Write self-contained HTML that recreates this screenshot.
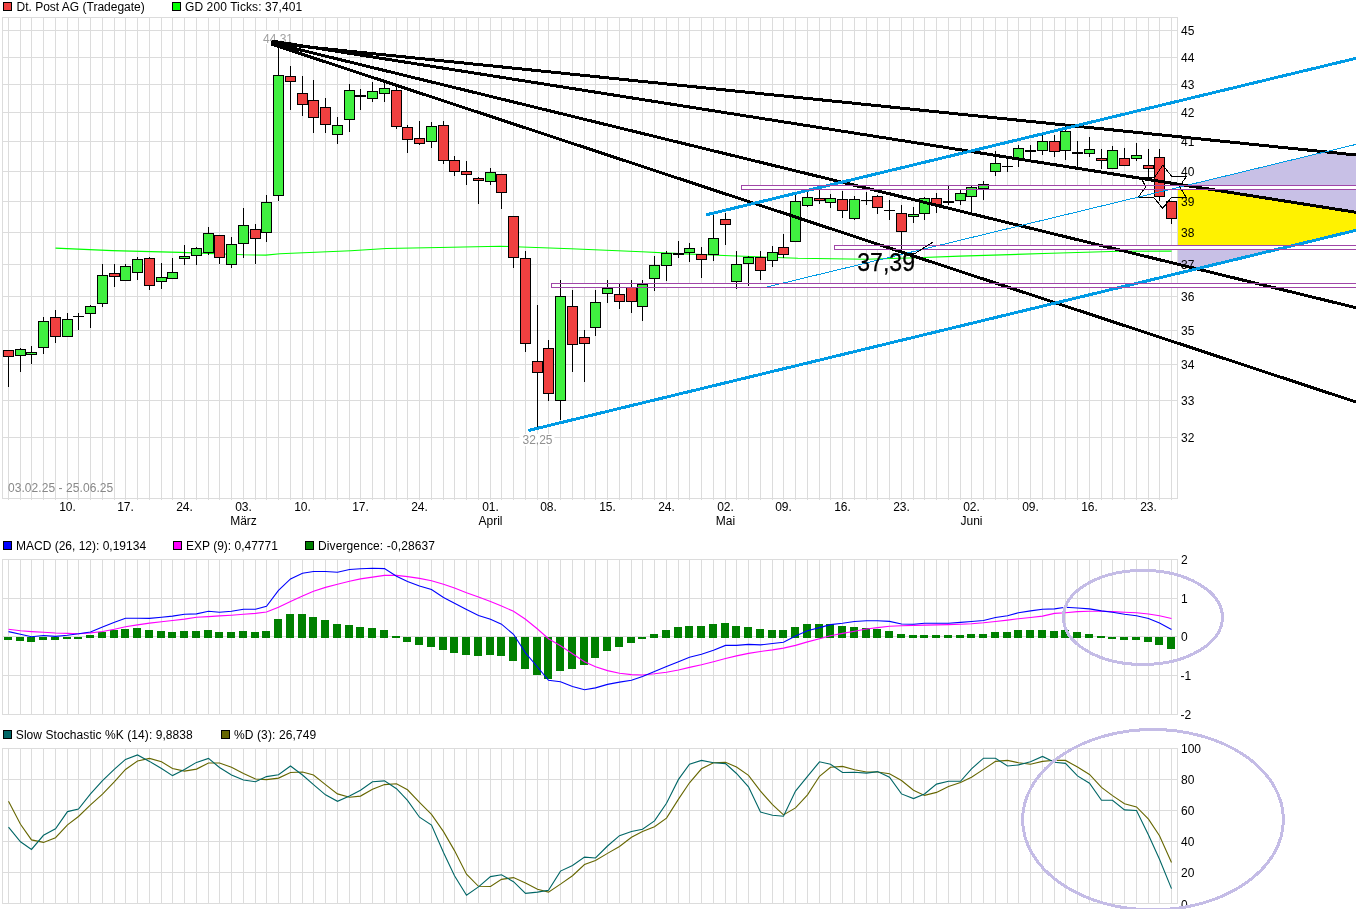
<!DOCTYPE html>
<html><head><meta charset="utf-8"><title>Dt. Post AG Chart</title>
<style>html,body{margin:0;padding:0;background:#fff;overflow:hidden}svg{display:block}</style>
</head><body>
<svg width="1356" height="909" viewBox="0 0 1356 909"><rect width="1356" height="909" fill="#fff"/>
<path d="M8.5 17V500M20.5 17V500M31.5 17V500M43.5 17V500M55.5 17V500M67.5 17V500M78.5 17V500M90.5 17V500M102.5 17V500M114.5 17V500M125.5 17V500M137.5 17V500M149.5 17V500M161.5 17V500M172.5 17V500M184.5 17V500M196.5 17V500M208.5 17V500M219.5 17V500M231.5 17V500M243.5 17V500M255.5 17V500M266.5 17V500M278.5 17V500M290.5 17V500M302.5 17V500M313.5 17V500M325.5 17V500M337.5 17V500M349.5 17V500M360.5 17V500M372.5 17V500M384.5 17V500M396.5 17V500M407.5 17V500M419.5 17V500M431.5 17V500M443.5 17V500M454.5 17V500M466.5 17V500M478.5 17V500M490.5 17V500M501.5 17V500M513.5 17V500M525.5 17V500M537.5 17V500M548.5 17V500M560.5 17V500M572.5 17V500M584.5 17V500M595.5 17V500M607.5 17V500M619.5 17V500M631.5 17V500M642.5 17V500M654.5 17V500M666.5 17V500M678.5 17V500M689.5 17V500M701.5 17V500M713.5 17V500M725.5 17V500M736.5 17V500M748.5 17V500M760.5 17V500M772.5 17V500M783.5 17V500M795.5 17V500M807.5 17V500M819.5 17V500M830.5 17V500M842.5 17V500M854.5 17V500M866.5 17V500M877.5 17V500M889.5 17V500M901.5 17V500M913.5 17V500M924.5 17V500M936.5 17V500M948.5 17V500M960.5 17V500M971.5 17V500M983.5 17V500M995.5 17V500M1007.5 17V500M1018.5 17V500M1030.5 17V500M1042.5 17V500M1054.5 17V500M1065.5 17V500M1077.5 17V500M1089.5 17V500M1101.5 17V500M1112.5 17V500M1124.5 17V500M1136.5 17V500M1148.5 17V500M1159.5 17V500M1171.5 17V500" stroke="#dcdcdc" stroke-width="1" fill="none"/>
<path d="M2 437.5H1177M2 400.5H1177M2 364.5H1177M2 330.5H1177M2 296.5H1177M2 264.5H1177M2 232.5H1177M2 201.5H1177M2 171.5H1177M2 141.5H1177M2 112.5H1177M2 84.5H1177M2 57.5H1177M2 30.5H1177" stroke="#dcdcdc" stroke-width="1" fill="none"/>
<rect x="2.5" y="17.5" width="1175" height="481" fill="none" stroke="#dcdcdc" stroke-width="1"/>
<polygon points="1178.00,187.49 1325.29,151.83 1356.00,155.00 1356.00,230.30 1196.75,268.82 1178.00,264.24" fill="#c8c0e6"/>
<rect x="741.5" y="185.5" width="619" height="4" fill="#fff"/>
<rect x="834.5" y="245.5" width="526" height="4" fill="#fff"/>
<rect x="551.5" y="283.5" width="809" height="4" fill="#fff"/>
<polygon points="1178,190 1214.82,190 1356,212.30 1356,230.30 1295.22,245 1178,245" fill="#fff200"/>
<polyline points="55.5,248.1 112.2,250.6 180,252.4 243.8,254.8 265.8,255.1 280,253.7 350.8,250.7 386.2,248.5 439.3,247.5 500,246.2 570.8,248.8 641.6,251.8 680,253.6 730,255.8 797.8,258.3 865.7,259.2 916.6,257.8 960,256.1 1051.8,253.3 1119.6,251.3 1171.6,251.1" fill="none" stroke="#00ff00" stroke-width="1.1"/>
<text x="8" y="492" style="font-family:'Liberation Sans',Arial,sans-serif;font-size:12px" textLength="105.2" fill="#888888">03.02.25 - 25.06.25</text>
<path d="M8.5 350V387" stroke="#000" stroke-width="1"/>
<rect x="3.5" y="350.5" width="10" height="6" fill="#f04040" stroke="#000" stroke-width="1"/>
<path d="M20.5 348V372" stroke="#000" stroke-width="1"/>
<rect x="15.5" y="349.5" width="10" height="6" fill="#40f040" stroke="#000" stroke-width="1"/>
<path d="M31.5 346V364" stroke="#000" stroke-width="1"/>
<rect x="26.5" y="352.5" width="10" height="2" fill="#40f040" stroke="#000" stroke-width="1"/>
<path d="M43.5 317V354" stroke="#000" stroke-width="1"/>
<rect x="38.5" y="321.5" width="10" height="26" fill="#40f040" stroke="#000" stroke-width="1"/>
<path d="M55.5 310V343" stroke="#000" stroke-width="1"/>
<rect x="50.5" y="317.5" width="10" height="19" fill="#f04040" stroke="#000" stroke-width="1"/>
<path d="M67.5 313V337" stroke="#000" stroke-width="1"/>
<rect x="62.5" y="319.5" width="10" height="17" fill="#40f040" stroke="#000" stroke-width="1"/>
<path d="M78.5 313V330" stroke="#000" stroke-width="1"/>
<rect x="73.0" y="316" width="11" height="1" fill="#000"/>
<path d="M90.5 305V328" stroke="#000" stroke-width="1"/>
<rect x="85.5" y="306.5" width="10" height="7" fill="#40f040" stroke="#000" stroke-width="1"/>
<path d="M102.5 264V307" stroke="#000" stroke-width="1"/>
<rect x="97.5" y="275.5" width="10" height="28" fill="#40f040" stroke="#000" stroke-width="1"/>
<path d="M114.5 264V287" stroke="#000" stroke-width="1"/>
<rect x="109.5" y="273.5" width="10" height="3" fill="#f04040" stroke="#000" stroke-width="1"/>
<path d="M125.5 264V281" stroke="#000" stroke-width="1"/>
<rect x="120.5" y="266.5" width="10" height="14" fill="#40f040" stroke="#000" stroke-width="1"/>
<path d="M137.5 257V280" stroke="#000" stroke-width="1"/>
<rect x="132.5" y="259.5" width="10" height="13" fill="#40f040" stroke="#000" stroke-width="1"/>
<path d="M149.5 257V290" stroke="#000" stroke-width="1"/>
<rect x="144.5" y="258.5" width="10" height="27" fill="#f04040" stroke="#000" stroke-width="1"/>
<path d="M161.5 263V289" stroke="#000" stroke-width="1"/>
<rect x="156.5" y="277.5" width="10" height="4" fill="#40f040" stroke="#000" stroke-width="1"/>
<path d="M172.5 258V279" stroke="#000" stroke-width="1"/>
<rect x="167.5" y="272.5" width="10" height="6" fill="#40f040" stroke="#000" stroke-width="1"/>
<path d="M184.5 245V265" stroke="#000" stroke-width="1"/>
<rect x="179.5" y="256.5" width="10" height="2" fill="#40f040" stroke="#000" stroke-width="1"/>
<path d="M196.5 247V265" stroke="#000" stroke-width="1"/>
<rect x="191.5" y="248.5" width="10" height="7" fill="#40f040" stroke="#000" stroke-width="1"/>
<path d="M208.5 227V255" stroke="#000" stroke-width="1"/>
<rect x="203.5" y="233.5" width="10" height="19" fill="#40f040" stroke="#000" stroke-width="1"/>
<path d="M219.5 235V264" stroke="#000" stroke-width="1"/>
<rect x="214.5" y="235.5" width="10" height="22" fill="#f04040" stroke="#000" stroke-width="1"/>
<path d="M231.5 237V268" stroke="#000" stroke-width="1"/>
<rect x="226.5" y="244.5" width="10" height="20" fill="#40f040" stroke="#000" stroke-width="1"/>
<path d="M243.5 208V258" stroke="#000" stroke-width="1"/>
<rect x="238.5" y="225.5" width="10" height="18" fill="#40f040" stroke="#000" stroke-width="1"/>
<path d="M255.5 224V264" stroke="#000" stroke-width="1"/>
<rect x="250.5" y="229.5" width="10" height="9" fill="#f04040" stroke="#000" stroke-width="1"/>
<path d="M266.5 195V242" stroke="#000" stroke-width="1"/>
<rect x="261.5" y="202.5" width="10" height="30" fill="#40f040" stroke="#000" stroke-width="1"/>
<path d="M278.5 41V201" stroke="#000" stroke-width="1"/>
<rect x="273.5" y="75.5" width="10" height="120" fill="#40f040" stroke="#000" stroke-width="1"/>
<path d="M290.5 66V110" stroke="#000" stroke-width="1"/>
<rect x="285.5" y="76.5" width="10" height="5" fill="#f04040" stroke="#000" stroke-width="1"/>
<path d="M302.5 76V116" stroke="#000" stroke-width="1"/>
<rect x="297.5" y="93.5" width="10" height="11" fill="#f04040" stroke="#000" stroke-width="1"/>
<path d="M313.5 80V133" stroke="#000" stroke-width="1"/>
<rect x="308.5" y="100.5" width="10" height="17" fill="#f04040" stroke="#000" stroke-width="1"/>
<path d="M325.5 98V133" stroke="#000" stroke-width="1"/>
<rect x="320.5" y="107.5" width="10" height="17" fill="#f04040" stroke="#000" stroke-width="1"/>
<path d="M337.5 117V144" stroke="#000" stroke-width="1"/>
<rect x="332.5" y="125.5" width="10" height="9" fill="#40f040" stroke="#000" stroke-width="1"/>
<path d="M349.5 84V132" stroke="#000" stroke-width="1"/>
<rect x="344.5" y="90.5" width="10" height="29" fill="#40f040" stroke="#000" stroke-width="1"/>
<path d="M360.5 89V110" stroke="#000" stroke-width="1"/>
<rect x="355.0" y="95" width="11" height="2" fill="#000"/>
<path d="M372.5 82V102" stroke="#000" stroke-width="1"/>
<rect x="367.5" y="91.5" width="10" height="7" fill="#40f040" stroke="#000" stroke-width="1"/>
<path d="M384.5 83V102" stroke="#000" stroke-width="1"/>
<rect x="379.5" y="88.5" width="10" height="5" fill="#40f040" stroke="#000" stroke-width="1"/>
<path d="M396.5 86V129" stroke="#000" stroke-width="1"/>
<rect x="391.5" y="90.5" width="10" height="36" fill="#f04040" stroke="#000" stroke-width="1"/>
<path d="M407.5 125V153" stroke="#000" stroke-width="1"/>
<rect x="402.5" y="127.5" width="10" height="12" fill="#f04040" stroke="#000" stroke-width="1"/>
<path d="M419.5 121V145" stroke="#000" stroke-width="1"/>
<rect x="414.5" y="138.5" width="10" height="5" fill="#f04040" stroke="#000" stroke-width="1"/>
<path d="M431.5 122V148" stroke="#000" stroke-width="1"/>
<rect x="426.5" y="126.5" width="10" height="15" fill="#40f040" stroke="#000" stroke-width="1"/>
<path d="M443.5 121V164" stroke="#000" stroke-width="1"/>
<rect x="438.5" y="125.5" width="10" height="35" fill="#f04040" stroke="#000" stroke-width="1"/>
<path d="M454.5 156V176" stroke="#000" stroke-width="1"/>
<rect x="449.5" y="160.5" width="10" height="11" fill="#f04040" stroke="#000" stroke-width="1"/>
<path d="M466.5 161V185" stroke="#000" stroke-width="1"/>
<rect x="461.5" y="171.5" width="10" height="3" fill="#f04040" stroke="#000" stroke-width="1"/>
<path d="M478.5 177V204" stroke="#000" stroke-width="1"/>
<rect x="473.5" y="178.5" width="10" height="2" fill="#f04040" stroke="#000" stroke-width="1"/>
<path d="M490.5 168V185" stroke="#000" stroke-width="1"/>
<rect x="485.5" y="172.5" width="10" height="9" fill="#40f040" stroke="#000" stroke-width="1"/>
<path d="M501.5 174V209" stroke="#000" stroke-width="1"/>
<rect x="496.5" y="174.5" width="10" height="18" fill="#f04040" stroke="#000" stroke-width="1"/>
<path d="M513.5 216V268" stroke="#000" stroke-width="1"/>
<rect x="508.5" y="216.5" width="10" height="41" fill="#f04040" stroke="#000" stroke-width="1"/>
<path d="M525.5 251V352" stroke="#000" stroke-width="1"/>
<rect x="520.5" y="258.5" width="10" height="85" fill="#f04040" stroke="#000" stroke-width="1"/>
<path d="M537.5 305V427" stroke="#000" stroke-width="1"/>
<rect x="532.5" y="361.5" width="10" height="11" fill="#f04040" stroke="#000" stroke-width="1"/>
<path d="M548.5 340V401" stroke="#000" stroke-width="1"/>
<rect x="543.5" y="348.5" width="10" height="45" fill="#f04040" stroke="#000" stroke-width="1"/>
<path d="M560.5 280V420" stroke="#000" stroke-width="1"/>
<rect x="555.5" y="296.5" width="10" height="104" fill="#40f040" stroke="#000" stroke-width="1"/>
<path d="M572.5 290V372" stroke="#000" stroke-width="1"/>
<rect x="567.5" y="306.5" width="10" height="38" fill="#f04040" stroke="#000" stroke-width="1"/>
<path d="M584.5 330V382" stroke="#000" stroke-width="1"/>
<rect x="579.5" y="337.5" width="10" height="6" fill="#f04040" stroke="#000" stroke-width="1"/>
<path d="M595.5 290V336" stroke="#000" stroke-width="1"/>
<rect x="590.5" y="302.5" width="10" height="25" fill="#40f040" stroke="#000" stroke-width="1"/>
<path d="M607.5 280V303" stroke="#000" stroke-width="1"/>
<rect x="602.5" y="288.5" width="10" height="5" fill="#40f040" stroke="#000" stroke-width="1"/>
<path d="M619.5 284V309" stroke="#000" stroke-width="1"/>
<rect x="614.5" y="294.5" width="10" height="7" fill="#f04040" stroke="#000" stroke-width="1"/>
<path d="M631.5 280V313" stroke="#000" stroke-width="1"/>
<rect x="626.5" y="287.5" width="10" height="14" fill="#f04040" stroke="#000" stroke-width="1"/>
<path d="M642.5 280V321" stroke="#000" stroke-width="1"/>
<rect x="637.5" y="284.5" width="10" height="22" fill="#40f040" stroke="#000" stroke-width="1"/>
<path d="M654.5 256V291" stroke="#000" stroke-width="1"/>
<rect x="649.5" y="265.5" width="10" height="13" fill="#40f040" stroke="#000" stroke-width="1"/>
<path d="M666.5 251V281" stroke="#000" stroke-width="1"/>
<rect x="661.5" y="253.5" width="10" height="12" fill="#40f040" stroke="#000" stroke-width="1"/>
<path d="M678.5 241V258" stroke="#000" stroke-width="1"/>
<rect x="673.0" y="253" width="11" height="2" fill="#000"/>
<path d="M689.5 243V262" stroke="#000" stroke-width="1"/>
<rect x="684.5" y="248.5" width="10" height="4" fill="#40f040" stroke="#000" stroke-width="1"/>
<path d="M701.5 247V278" stroke="#000" stroke-width="1"/>
<rect x="696.5" y="254.5" width="10" height="5" fill="#f04040" stroke="#000" stroke-width="1"/>
<path d="M713.5 215V261" stroke="#000" stroke-width="1"/>
<rect x="708.5" y="238.5" width="10" height="16" fill="#40f040" stroke="#000" stroke-width="1"/>
<path d="M725.5 213V245" stroke="#000" stroke-width="1"/>
<rect x="720.5" y="219.5" width="10" height="5" fill="#f04040" stroke="#000" stroke-width="1"/>
<path d="M736.5 251V289" stroke="#000" stroke-width="1"/>
<rect x="731.5" y="264.5" width="10" height="17" fill="#40f040" stroke="#000" stroke-width="1"/>
<path d="M748.5 256V286" stroke="#000" stroke-width="1"/>
<rect x="743.5" y="257.5" width="10" height="6" fill="#40f040" stroke="#000" stroke-width="1"/>
<path d="M760.5 251V280" stroke="#000" stroke-width="1"/>
<rect x="755.5" y="257.5" width="10" height="13" fill="#f04040" stroke="#000" stroke-width="1"/>
<path d="M772.5 246V267" stroke="#000" stroke-width="1"/>
<rect x="767.5" y="252.5" width="10" height="8" fill="#40f040" stroke="#000" stroke-width="1"/>
<path d="M783.5 234V258" stroke="#000" stroke-width="1"/>
<rect x="778.5" y="247.5" width="10" height="7" fill="#f04040" stroke="#000" stroke-width="1"/>
<path d="M795.5 195V242" stroke="#000" stroke-width="1"/>
<rect x="790.5" y="201.5" width="10" height="40" fill="#40f040" stroke="#000" stroke-width="1"/>
<path d="M807.5 192V207" stroke="#000" stroke-width="1"/>
<rect x="802.5" y="197.5" width="10" height="8" fill="#40f040" stroke="#000" stroke-width="1"/>
<path d="M819.5 190V204" stroke="#000" stroke-width="1"/>
<rect x="814.5" y="198.5" width="10" height="2" fill="#f04040" stroke="#000" stroke-width="1"/>
<path d="M830.5 194V208" stroke="#000" stroke-width="1"/>
<rect x="825.5" y="198.5" width="10" height="4" fill="#40f040" stroke="#000" stroke-width="1"/>
<path d="M842.5 191V218" stroke="#000" stroke-width="1"/>
<rect x="837.5" y="199.5" width="10" height="11" fill="#f04040" stroke="#000" stroke-width="1"/>
<path d="M854.5 196V220" stroke="#000" stroke-width="1"/>
<rect x="849.5" y="199.5" width="10" height="19" fill="#40f040" stroke="#000" stroke-width="1"/>
<path d="M866.5 192V205" stroke="#000" stroke-width="1"/>
<rect x="861.0" y="200" width="11" height="1" fill="#000"/>
<path d="M877.5 195V214" stroke="#000" stroke-width="1"/>
<rect x="872.5" y="196.5" width="10" height="11" fill="#f04040" stroke="#000" stroke-width="1"/>
<path d="M889.5 200V220" stroke="#000" stroke-width="1"/>
<rect x="884.0" y="210" width="11" height="1" fill="#000"/>
<path d="M901.5 205V249" stroke="#000" stroke-width="1"/>
<rect x="896.5" y="213.5" width="10" height="18" fill="#f04040" stroke="#000" stroke-width="1"/>
<path d="M913.5 207V223" stroke="#000" stroke-width="1"/>
<rect x="908.5" y="214.5" width="10" height="2" fill="#40f040" stroke="#000" stroke-width="1"/>
<path d="M924.5 197V220" stroke="#000" stroke-width="1"/>
<rect x="919.5" y="198.5" width="10" height="15" fill="#40f040" stroke="#000" stroke-width="1"/>
<path d="M936.5 193V213" stroke="#000" stroke-width="1"/>
<rect x="931.5" y="198.5" width="10" height="6" fill="#f04040" stroke="#000" stroke-width="1"/>
<path d="M948.5 186V205" stroke="#000" stroke-width="1"/>
<rect x="943.0" y="201" width="11" height="2" fill="#000"/>
<path d="M960.5 190V205" stroke="#000" stroke-width="1"/>
<rect x="955.5" y="193.5" width="10" height="7" fill="#40f040" stroke="#000" stroke-width="1"/>
<path d="M971.5 186V212" stroke="#000" stroke-width="1"/>
<rect x="966.5" y="187.5" width="10" height="9" fill="#40f040" stroke="#000" stroke-width="1"/>
<path d="M983.5 181V200" stroke="#000" stroke-width="1"/>
<rect x="978.5" y="184.5" width="10" height="4" fill="#40f040" stroke="#000" stroke-width="1"/>
<path d="M995.5 151V176" stroke="#000" stroke-width="1"/>
<rect x="990.5" y="163.5" width="10" height="8" fill="#40f040" stroke="#000" stroke-width="1"/>
<path d="M1007.5 156V172" stroke="#000" stroke-width="1"/>
<rect x="1002.0" y="166" width="11" height="1" fill="#000"/>
<path d="M1018.5 145V167" stroke="#000" stroke-width="1"/>
<rect x="1013.5" y="148.5" width="10" height="10" fill="#40f040" stroke="#000" stroke-width="1"/>
<path d="M1030.5 145V159" stroke="#000" stroke-width="1"/>
<rect x="1025.0" y="150" width="11" height="2" fill="#000"/>
<path d="M1042.5 135V155" stroke="#000" stroke-width="1"/>
<rect x="1037.5" y="141.5" width="10" height="9" fill="#40f040" stroke="#000" stroke-width="1"/>
<path d="M1054.5 135V157" stroke="#000" stroke-width="1"/>
<rect x="1049.5" y="141.5" width="10" height="10" fill="#f04040" stroke="#000" stroke-width="1"/>
<path d="M1065.5 130V160" stroke="#000" stroke-width="1"/>
<rect x="1060.5" y="131.5" width="10" height="19" fill="#40f040" stroke="#000" stroke-width="1"/>
<path d="M1077.5 141V168" stroke="#000" stroke-width="1"/>
<rect x="1072.0" y="152" width="11" height="2" fill="#000"/>
<path d="M1089.5 137V157" stroke="#000" stroke-width="1"/>
<rect x="1084.5" y="149.5" width="10" height="4" fill="#40f040" stroke="#000" stroke-width="1"/>
<path d="M1101.5 149V169" stroke="#000" stroke-width="1"/>
<rect x="1096.5" y="158.5" width="10" height="2" fill="#f04040" stroke="#000" stroke-width="1"/>
<path d="M1112.5 146V169" stroke="#000" stroke-width="1"/>
<rect x="1107.5" y="150.5" width="10" height="18" fill="#40f040" stroke="#000" stroke-width="1"/>
<path d="M1124.5 148V166" stroke="#000" stroke-width="1"/>
<rect x="1119.5" y="158.5" width="10" height="7" fill="#f04040" stroke="#000" stroke-width="1"/>
<path d="M1136.5 143V161" stroke="#000" stroke-width="1"/>
<rect x="1131.5" y="155.5" width="10" height="3" fill="#40f040" stroke="#000" stroke-width="1"/>
<path d="M1148.5 149V178" stroke="#000" stroke-width="1"/>
<rect x="1143.5" y="165.5" width="10" height="3" fill="#f04040" stroke="#000" stroke-width="1"/>
<path d="M1159.5 149V201" stroke="#000" stroke-width="1"/>
<rect x="1154.5" y="157.5" width="10" height="39" fill="#f04040" stroke="#000" stroke-width="1"/>
<path d="M1171.5 201V224" stroke="#000" stroke-width="1"/>
<rect x="1166.5" y="201.5" width="10" height="17" fill="#f04040" stroke="#000" stroke-width="1"/>
<polygon points="1162.8,165.2 1171.5,176.1 1186.3,176.6 1179.4,186.5 1186.3,197.4 1171.5,197.4 1162.6,208.3 1153.7,197.4 1138.3,197.0 1145.7,187.0 1140.8,177.1 1154.7,177.1" fill="none" stroke="#000" stroke-width="1" shape-rendering="crispEdges"/>
<rect x="257" y="31" width="36" height="13" fill="#fff"/>
<text x="263" y="42.6" style="font-family:'Liberation Sans',Arial,sans-serif;font-size:12px" fill="#a0a0a0">44,31</text>
<line x1="271.5" y1="43.2" x2="1356" y2="155.0" stroke="#000" stroke-width="3" shape-rendering="crispEdges"/>
<line x1="271.5" y1="41.0" x2="1356" y2="212.3" stroke="#000" stroke-width="3" shape-rendering="crispEdges"/>
<line x1="271.5" y1="42.9" x2="1356" y2="307.7" stroke="#000" stroke-width="3" shape-rendering="crispEdges"/>
<line x1="271.5" y1="44.1" x2="1356" y2="402.0" stroke="#000" stroke-width="3" shape-rendering="crispEdges"/>
<line x1="767" y1="287" x2="1356" y2="144.4" stroke="#009be5" stroke-width="1" shape-rendering="crispEdges"/>
<line x1="528.3" y1="430.5" x2="1356" y2="230.3" stroke="#009be5" stroke-width="3" shape-rendering="crispEdges"/>
<line x1="706.3" y1="214.8" x2="1356" y2="58.3" stroke="#009be5" stroke-width="3" shape-rendering="crispEdges"/>
<rect x="741.5" y="185.5" width="619" height="4" fill="none" stroke="#a046a8" stroke-width="1"/>
<rect x="834.5" y="245.5" width="526" height="4" fill="none" stroke="#a046a8" stroke-width="1"/>
<rect x="551.5" y="283.5" width="809" height="4" fill="none" stroke="#a046a8" stroke-width="1"/>
<path d="M890.5 249.4 L905 253.8 L914.5 253.8 L932.7 242.2" fill="none" stroke="#000" stroke-width="1" shape-rendering="crispEdges"/>
<rect x="519.5" y="434" width="35" height="12" fill="#fff"/>
<text x="522.5" y="444" style="font-family:'Liberation Sans',Arial,sans-serif;font-size:12px" fill="#909090">32,25</text>
<text x="857.2" y="270.8" style="font-family:'Liberation Sans',Arial,sans-serif;font-size:25.4px" textLength="57.8" lengthAdjust="spacingAndGlyphs" fill="#000" stroke="#000" stroke-width="0.25">37,39</text>
<text x="1181" y="441.8" style="font-family:'Liberation Sans',Arial,sans-serif;font-size:12px" fill="#000">32</text>
<text x="1181" y="404.8" style="font-family:'Liberation Sans',Arial,sans-serif;font-size:12px" fill="#000">33</text>
<text x="1181" y="368.8" style="font-family:'Liberation Sans',Arial,sans-serif;font-size:12px" fill="#000">34</text>
<text x="1181" y="334.8" style="font-family:'Liberation Sans',Arial,sans-serif;font-size:12px" fill="#000">35</text>
<text x="1181" y="300.8" style="font-family:'Liberation Sans',Arial,sans-serif;font-size:12px" fill="#000">36</text>
<text x="1181" y="268.8" style="font-family:'Liberation Sans',Arial,sans-serif;font-size:12px" fill="#000">37</text>
<text x="1181" y="236.8" style="font-family:'Liberation Sans',Arial,sans-serif;font-size:12px" fill="#000">38</text>
<text x="1181" y="205.8" style="font-family:'Liberation Sans',Arial,sans-serif;font-size:12px" fill="#000">39</text>
<text x="1181" y="175.8" style="font-family:'Liberation Sans',Arial,sans-serif;font-size:12px" fill="#000">40</text>
<text x="1181" y="145.8" style="font-family:'Liberation Sans',Arial,sans-serif;font-size:12px" fill="#000">41</text>
<text x="1181" y="116.8" style="font-family:'Liberation Sans',Arial,sans-serif;font-size:12px" fill="#000">42</text>
<text x="1181" y="88.8" style="font-family:'Liberation Sans',Arial,sans-serif;font-size:12px" fill="#000">43</text>
<text x="1181" y="61.8" style="font-family:'Liberation Sans',Arial,sans-serif;font-size:12px" fill="#000">44</text>
<text x="1181" y="34.8" style="font-family:'Liberation Sans',Arial,sans-serif;font-size:12px" fill="#000">45</text>
<rect x="3.5" y="2.5" width="8" height="8" fill="#f04040" stroke="#000"/>
<text x="16.5" y="11" style="font-family:'Liberation Sans',Arial,sans-serif;font-size:12px" fill="#000">Dt. Post AG (Tradegate)</text>
<rect x="172.5" y="2.5" width="8" height="8" fill="#00ff00" stroke="#000"/>
<text x="185" y="11" style="font-family:'Liberation Sans',Arial,sans-serif;font-size:12px" textLength="117.2" fill="#000">GD 200 Ticks: 37,401</text>
<text x="67.5" y="511" text-anchor="middle" style="font-family:'Liberation Sans',Arial,sans-serif;font-size:12px" fill="#000">10.</text>
<text x="125.5" y="511" text-anchor="middle" style="font-family:'Liberation Sans',Arial,sans-serif;font-size:12px" fill="#000">17.</text>
<text x="184.5" y="511" text-anchor="middle" style="font-family:'Liberation Sans',Arial,sans-serif;font-size:12px" fill="#000">24.</text>
<text x="243.5" y="511" text-anchor="middle" style="font-family:'Liberation Sans',Arial,sans-serif;font-size:12px" fill="#000">03.</text>
<text x="243.5" y="524.7" text-anchor="middle" style="font-family:'Liberation Sans',Arial,sans-serif;font-size:12px" fill="#000">März</text>
<text x="302.5" y="511" text-anchor="middle" style="font-family:'Liberation Sans',Arial,sans-serif;font-size:12px" fill="#000">10.</text>
<text x="360.5" y="511" text-anchor="middle" style="font-family:'Liberation Sans',Arial,sans-serif;font-size:12px" fill="#000">17.</text>
<text x="419.5" y="511" text-anchor="middle" style="font-family:'Liberation Sans',Arial,sans-serif;font-size:12px" fill="#000">24.</text>
<text x="490.5" y="511" text-anchor="middle" style="font-family:'Liberation Sans',Arial,sans-serif;font-size:12px" fill="#000">01.</text>
<text x="490.5" y="524.7" text-anchor="middle" style="font-family:'Liberation Sans',Arial,sans-serif;font-size:12px" fill="#000">April</text>
<text x="548.5" y="511" text-anchor="middle" style="font-family:'Liberation Sans',Arial,sans-serif;font-size:12px" fill="#000">08.</text>
<text x="607.5" y="511" text-anchor="middle" style="font-family:'Liberation Sans',Arial,sans-serif;font-size:12px" fill="#000">15.</text>
<text x="666.5" y="511" text-anchor="middle" style="font-family:'Liberation Sans',Arial,sans-serif;font-size:12px" fill="#000">24.</text>
<text x="725.5" y="511" text-anchor="middle" style="font-family:'Liberation Sans',Arial,sans-serif;font-size:12px" fill="#000">02.</text>
<text x="725.5" y="524.7" text-anchor="middle" style="font-family:'Liberation Sans',Arial,sans-serif;font-size:12px" fill="#000">Mai</text>
<text x="783.5" y="511" text-anchor="middle" style="font-family:'Liberation Sans',Arial,sans-serif;font-size:12px" fill="#000">09.</text>
<text x="842.5" y="511" text-anchor="middle" style="font-family:'Liberation Sans',Arial,sans-serif;font-size:12px" fill="#000">16.</text>
<text x="901.5" y="511" text-anchor="middle" style="font-family:'Liberation Sans',Arial,sans-serif;font-size:12px" fill="#000">23.</text>
<text x="971.5" y="511" text-anchor="middle" style="font-family:'Liberation Sans',Arial,sans-serif;font-size:12px" fill="#000">02.</text>
<text x="971.5" y="524.7" text-anchor="middle" style="font-family:'Liberation Sans',Arial,sans-serif;font-size:12px" fill="#000">Juni</text>
<text x="1030.5" y="511" text-anchor="middle" style="font-family:'Liberation Sans',Arial,sans-serif;font-size:12px" fill="#000">09.</text>
<text x="1089.5" y="511" text-anchor="middle" style="font-family:'Liberation Sans',Arial,sans-serif;font-size:12px" fill="#000">16.</text>
<text x="1148.5" y="511" text-anchor="middle" style="font-family:'Liberation Sans',Arial,sans-serif;font-size:12px" fill="#000">23.</text>
<path d="M8.5 559V714M20.5 559V714M31.5 559V714M43.5 559V714M55.5 559V714M67.5 559V714M78.5 559V714M90.5 559V714M102.5 559V714M114.5 559V714M125.5 559V714M137.5 559V714M149.5 559V714M161.5 559V714M172.5 559V714M184.5 559V714M196.5 559V714M208.5 559V714M219.5 559V714M231.5 559V714M243.5 559V714M255.5 559V714M266.5 559V714M278.5 559V714M290.5 559V714M302.5 559V714M313.5 559V714M325.5 559V714M337.5 559V714M349.5 559V714M360.5 559V714M372.5 559V714M384.5 559V714M396.5 559V714M407.5 559V714M419.5 559V714M431.5 559V714M443.5 559V714M454.5 559V714M466.5 559V714M478.5 559V714M490.5 559V714M501.5 559V714M513.5 559V714M525.5 559V714M537.5 559V714M548.5 559V714M560.5 559V714M572.5 559V714M584.5 559V714M595.5 559V714M607.5 559V714M619.5 559V714M631.5 559V714M642.5 559V714M654.5 559V714M666.5 559V714M678.5 559V714M689.5 559V714M701.5 559V714M713.5 559V714M725.5 559V714M736.5 559V714M748.5 559V714M760.5 559V714M772.5 559V714M783.5 559V714M795.5 559V714M807.5 559V714M819.5 559V714M830.5 559V714M842.5 559V714M854.5 559V714M866.5 559V714M877.5 559V714M889.5 559V714M901.5 559V714M913.5 559V714M924.5 559V714M936.5 559V714M948.5 559V714M960.5 559V714M971.5 559V714M983.5 559V714M995.5 559V714M1007.5 559V714M1018.5 559V714M1030.5 559V714M1042.5 559V714M1054.5 559V714M1065.5 559V714M1077.5 559V714M1089.5 559V714M1101.5 559V714M1112.5 559V714M1124.5 559V714M1136.5 559V714M1148.5 559V714M1159.5 559V714M1171.5 559V714" stroke="#dcdcdc" stroke-width="1" fill="none"/>
<path d="M2 559.5H1177M2 598.5H1177M2 636.5H1177M2 675.5H1177M2 714.5H1177" stroke="#dcdcdc" stroke-width="1" fill="none"/>
<rect x="2.5" y="559.5" width="1175" height="155" fill="none" stroke="#dcdcdc" stroke-width="1"/>
<rect x="4" y="637" width="8" height="3" fill="#008000"/>
<rect x="16" y="637" width="8" height="4" fill="#008000"/>
<rect x="27" y="637" width="8" height="5" fill="#008000"/>
<rect x="39" y="637" width="8" height="3" fill="#008000"/>
<rect x="51" y="637" width="8" height="3" fill="#008000"/>
<rect x="63" y="637" width="8" height="2" fill="#008000"/>
<rect x="74" y="637" width="8" height="2" fill="#008000"/>
<rect x="86" y="635" width="8" height="3" fill="#008000"/>
<rect x="98" y="632" width="8" height="6" fill="#008000"/>
<rect x="110" y="630" width="8" height="8" fill="#008000"/>
<rect x="121" y="629" width="8" height="9" fill="#008000"/>
<rect x="133" y="628" width="8" height="10" fill="#008000"/>
<rect x="145" y="630" width="8" height="8" fill="#008000"/>
<rect x="157" y="631" width="8" height="7" fill="#008000"/>
<rect x="168" y="632" width="8" height="6" fill="#008000"/>
<rect x="180" y="631" width="8" height="7" fill="#008000"/>
<rect x="192" y="631" width="8" height="7" fill="#008000"/>
<rect x="204" y="630" width="8" height="8" fill="#008000"/>
<rect x="215" y="632" width="8" height="6" fill="#008000"/>
<rect x="227" y="632" width="8" height="6" fill="#008000"/>
<rect x="239" y="631" width="8" height="7" fill="#008000"/>
<rect x="251" y="632" width="8" height="6" fill="#008000"/>
<rect x="262" y="631" width="8" height="7" fill="#008000"/>
<rect x="274" y="619" width="8" height="19" fill="#008000"/>
<rect x="286" y="614" width="8" height="24" fill="#008000"/>
<rect x="298" y="614" width="8" height="24" fill="#008000"/>
<rect x="309" y="617" width="8" height="21" fill="#008000"/>
<rect x="321" y="620" width="8" height="18" fill="#008000"/>
<rect x="333" y="624" width="8" height="14" fill="#008000"/>
<rect x="345" y="625" width="8" height="13" fill="#008000"/>
<rect x="356" y="627" width="8" height="11" fill="#008000"/>
<rect x="368" y="628" width="8" height="10" fill="#008000"/>
<rect x="380" y="630" width="8" height="8" fill="#008000"/>
<rect x="392" y="636" width="8" height="2" fill="#008000"/>
<rect x="403" y="637" width="8" height="5" fill="#008000"/>
<rect x="415" y="637" width="8" height="8" fill="#008000"/>
<rect x="427" y="637" width="8" height="10" fill="#008000"/>
<rect x="439" y="637" width="8" height="13" fill="#008000"/>
<rect x="450" y="637" width="8" height="16" fill="#008000"/>
<rect x="462" y="637" width="8" height="18" fill="#008000"/>
<rect x="474" y="637" width="8" height="19" fill="#008000"/>
<rect x="486" y="637" width="8" height="18" fill="#008000"/>
<rect x="497" y="637" width="8" height="19" fill="#008000"/>
<rect x="509" y="637" width="8" height="24" fill="#008000"/>
<rect x="521" y="637" width="8" height="32" fill="#008000"/>
<rect x="533" y="637" width="8" height="38" fill="#008000"/>
<rect x="544" y="637" width="8" height="42" fill="#008000"/>
<rect x="556" y="637" width="8" height="34" fill="#008000"/>
<rect x="568" y="637" width="8" height="32" fill="#008000"/>
<rect x="580" y="637" width="8" height="28" fill="#008000"/>
<rect x="591" y="637" width="8" height="21" fill="#008000"/>
<rect x="603" y="637" width="8" height="14" fill="#008000"/>
<rect x="615" y="637" width="8" height="10" fill="#008000"/>
<rect x="627" y="637" width="8" height="6" fill="#008000"/>
<rect x="638" y="637" width="8" height="2" fill="#008000"/>
<rect x="650" y="634" width="8" height="4" fill="#008000"/>
<rect x="662" y="630" width="8" height="8" fill="#008000"/>
<rect x="674" y="627" width="8" height="11" fill="#008000"/>
<rect x="685" y="626" width="8" height="12" fill="#008000"/>
<rect x="697" y="626" width="8" height="12" fill="#008000"/>
<rect x="709" y="624" width="8" height="14" fill="#008000"/>
<rect x="721" y="623" width="8" height="15" fill="#008000"/>
<rect x="732" y="626" width="8" height="12" fill="#008000"/>
<rect x="744" y="627" width="8" height="11" fill="#008000"/>
<rect x="756" y="629" width="8" height="9" fill="#008000"/>
<rect x="768" y="630" width="8" height="8" fill="#008000"/>
<rect x="779" y="630" width="8" height="8" fill="#008000"/>
<rect x="791" y="627" width="8" height="11" fill="#008000"/>
<rect x="803" y="624" width="8" height="14" fill="#008000"/>
<rect x="815" y="624" width="8" height="14" fill="#008000"/>
<rect x="826" y="624" width="8" height="14" fill="#008000"/>
<rect x="838" y="626" width="8" height="12" fill="#008000"/>
<rect x="850" y="627" width="8" height="11" fill="#008000"/>
<rect x="862" y="628" width="8" height="10" fill="#008000"/>
<rect x="873" y="629" width="8" height="9" fill="#008000"/>
<rect x="885" y="631" width="8" height="7" fill="#008000"/>
<rect x="897" y="634" width="8" height="4" fill="#008000"/>
<rect x="909" y="635" width="8" height="3" fill="#008000"/>
<rect x="920" y="635" width="8" height="3" fill="#008000"/>
<rect x="932" y="635" width="8" height="3" fill="#008000"/>
<rect x="944" y="635" width="8" height="3" fill="#008000"/>
<rect x="956" y="635" width="8" height="3" fill="#008000"/>
<rect x="967" y="634" width="8" height="4" fill="#008000"/>
<rect x="979" y="634" width="8" height="4" fill="#008000"/>
<rect x="991" y="632" width="8" height="6" fill="#008000"/>
<rect x="1003" y="632" width="8" height="6" fill="#008000"/>
<rect x="1014" y="630" width="8" height="8" fill="#008000"/>
<rect x="1026" y="630" width="8" height="8" fill="#008000"/>
<rect x="1038" y="630" width="8" height="8" fill="#008000"/>
<rect x="1050" y="631" width="8" height="7" fill="#008000"/>
<rect x="1061" y="630" width="8" height="8" fill="#008000"/>
<rect x="1073" y="632" width="8" height="6" fill="#008000"/>
<rect x="1085" y="634" width="8" height="4" fill="#008000"/>
<rect x="1097" y="636" width="8" height="2" fill="#008000"/>
<rect x="1108" y="637" width="8" height="2" fill="#008000"/>
<rect x="1120" y="637" width="8" height="3" fill="#008000"/>
<rect x="1132" y="637" width="8" height="3" fill="#008000"/>
<rect x="1144" y="637" width="8" height="5" fill="#008000"/>
<rect x="1155" y="637" width="8" height="8" fill="#008000"/>
<rect x="1167" y="637" width="8" height="12" fill="#008000"/>
<polyline points="8.5,629.3 20.5,630.8 31.5,631.6 43.5,632.3 55.5,633 67.5,633.4 78.5,633.8 90.5,632.9 102.5,631.5 114.5,629.3 125.5,626.7 137.5,624.9 149.5,623.1 161.5,621.7 172.5,620.5 184.5,619.1 196.5,617.3 208.5,616.6 219.5,615.9 231.5,615.2 243.5,614.3 255.5,613.4 266.5,612 278.5,607.2 290.5,601.4 302.5,596.1 313.5,591.3 325.5,587.4 337.5,584.2 349.5,581.2 360.5,578.9 372.5,577.1 384.5,575.4 396.5,575.4 407.5,576.6 419.5,578.4 431.5,580.7 443.5,584.2 454.5,587.9 466.5,592.7 478.5,597.1 490.5,601.5 501.5,606 513.5,611.3 525.5,619.2 537.5,629 548.5,638.7 560.5,645.8 572.5,653.8 584.5,661.7 595.5,666.7 607.5,670.6 619.5,673.2 631.5,674.6 642.5,675 654.5,673.8 666.5,672.3 678.5,670 689.5,667.4 701.5,664.7 713.5,661.7 725.5,658.5 736.5,655.9 748.5,653.4 760.5,651.5 772.5,649.9 783.5,648.1 795.5,645.4 807.5,641.9 819.5,638.7 830.5,635.7 842.5,633.4 854.5,631.3 866.5,629 877.5,627.6 889.5,626.3 901.5,625.8 913.5,625.4 924.5,625.1 936.5,624.9 948.5,624.6 960.5,624.2 971.5,623.7 983.5,622.8 995.5,621.5 1007.5,620.1 1018.5,618.7 1030.5,617.5 1042.5,616.1 1054.5,613.4 1065.5,612.7 1077.5,611.6 1089.5,611.3 1101.5,611.3 1112.5,611.6 1124.5,612.2 1136.5,612.7 1148.5,614 1159.5,615.8 1171.5,618.5" fill="none" stroke="#ff00ff" stroke-width="1.1"/>
<polyline points="8.5,631.6 20.5,634.3 31.5,636.8 43.5,635.5 55.5,636.4 67.5,635.2 78.5,633.8 90.5,632 102.5,627 114.5,622.3 125.5,618.2 137.5,618.2 149.5,618.4 161.5,617.3 172.5,616.1 184.5,614.3 196.5,613.9 208.5,611.3 219.5,612.2 231.5,611.3 243.5,609.3 255.5,609.3 266.5,606.3 278.5,590.4 290.5,578.9 302.5,573.2 313.5,571.5 325.5,571.5 337.5,572.3 349.5,569.5 360.5,568.8 372.5,568.3 384.5,568.6 396.5,576.2 407.5,581.5 419.5,586 431.5,589.5 443.5,597.5 454.5,603.3 466.5,609.5 478.5,615.4 490.5,619.2 501.5,624.2 513.5,634.3 525.5,652.9 537.5,667 548.5,680.3 560.5,681.7 572.5,686.5 584.5,689.7 595.5,687.9 607.5,684.4 619.5,682.1 631.5,680.3 642.5,676.4 654.5,671.5 666.5,666.5 678.5,661.7 689.5,657.3 701.5,654.3 713.5,650.2 725.5,645.4 736.5,645.4 748.5,644.4 760.5,644.9 772.5,643.5 783.5,642.3 795.5,636.1 807.5,630.8 819.5,627.6 830.5,624.6 842.5,623.3 854.5,621.5 866.5,620.7 877.5,620.7 889.5,621.4 901.5,624 913.5,624.2 924.5,623.3 936.5,623.3 948.5,623.3 960.5,622.4 971.5,621.5 983.5,620.5 995.5,617.5 1007.5,615.7 1018.5,612.7 1030.5,610.9 1042.5,609.2 1054.5,608.9 1065.5,607.3 1077.5,608 1089.5,608.9 1101.5,610.9 1112.5,612.2 1124.5,614.3 1136.5,615.8 1148.5,618.5 1159.5,623.1 1171.5,629.4" fill="none" stroke="#0000ff" stroke-width="1.1"/>
<text x="1181" y="563.8" style="font-family:'Liberation Sans',Arial,sans-serif;font-size:12px" fill="#000">2</text>
<text x="1181" y="602.8" style="font-family:'Liberation Sans',Arial,sans-serif;font-size:12px" fill="#000">1</text>
<text x="1181" y="640.8" style="font-family:'Liberation Sans',Arial,sans-serif;font-size:12px" fill="#000">0</text>
<text x="1180.5" y="679.8" style="font-family:'Liberation Sans',Arial,sans-serif;font-size:12px" fill="#000">-1</text>
<text x="1180.5" y="718.8" style="font-family:'Liberation Sans',Arial,sans-serif;font-size:12px" fill="#000">-2</text>
<ellipse cx="1142.9" cy="617.45" rx="79.5" ry="47.05" fill="none" stroke="#c4bce6" stroke-width="3" shape-rendering="crispEdges"/>
<rect x="3.5" y="541.5" width="8" height="8" fill="#0000ff" stroke="#000"/>
<text x="16" y="549.5" style="font-family:'Liberation Sans',Arial,sans-serif;font-size:12px" fill="#000">MACD (26, 12): 0,19134</text>
<rect x="173.5" y="541.5" width="8" height="8" fill="#ff00ff" stroke="#000"/>
<text x="186" y="549.5" style="font-family:'Liberation Sans',Arial,sans-serif;font-size:12px" fill="#000">EXP (9): 0,47771</text>
<rect x="305.5" y="541.5" width="8" height="8" fill="#008000" stroke="#000"/>
<text x="318" y="549.5" style="font-family:'Liberation Sans',Arial,sans-serif;font-size:12px" textLength="117" fill="#000">Divergence: -0,28637</text>
<path d="M8.5 748V903M20.5 748V903M31.5 748V903M43.5 748V903M55.5 748V903M67.5 748V903M78.5 748V903M90.5 748V903M102.5 748V903M114.5 748V903M125.5 748V903M137.5 748V903M149.5 748V903M161.5 748V903M172.5 748V903M184.5 748V903M196.5 748V903M208.5 748V903M219.5 748V903M231.5 748V903M243.5 748V903M255.5 748V903M266.5 748V903M278.5 748V903M290.5 748V903M302.5 748V903M313.5 748V903M325.5 748V903M337.5 748V903M349.5 748V903M360.5 748V903M372.5 748V903M384.5 748V903M396.5 748V903M407.5 748V903M419.5 748V903M431.5 748V903M443.5 748V903M454.5 748V903M466.5 748V903M478.5 748V903M490.5 748V903M501.5 748V903M513.5 748V903M525.5 748V903M537.5 748V903M548.5 748V903M560.5 748V903M572.5 748V903M584.5 748V903M595.5 748V903M607.5 748V903M619.5 748V903M631.5 748V903M642.5 748V903M654.5 748V903M666.5 748V903M678.5 748V903M689.5 748V903M701.5 748V903M713.5 748V903M725.5 748V903M736.5 748V903M748.5 748V903M760.5 748V903M772.5 748V903M783.5 748V903M795.5 748V903M807.5 748V903M819.5 748V903M830.5 748V903M842.5 748V903M854.5 748V903M866.5 748V903M877.5 748V903M889.5 748V903M901.5 748V903M913.5 748V903M924.5 748V903M936.5 748V903M948.5 748V903M960.5 748V903M971.5 748V903M983.5 748V903M995.5 748V903M1007.5 748V903M1018.5 748V903M1030.5 748V903M1042.5 748V903M1054.5 748V903M1065.5 748V903M1077.5 748V903M1089.5 748V903M1101.5 748V903M1112.5 748V903M1124.5 748V903M1136.5 748V903M1148.5 748V903M1159.5 748V903M1171.5 748V903" stroke="#dcdcdc" stroke-width="1" fill="none"/>
<path d="M2 748.5H1177M2 779.5H1177M2 810.5H1177M2 841.5H1177M2 872.5H1177M2 903.5H1177" stroke="#dcdcdc" stroke-width="1" fill="none"/>
<rect x="2.5" y="748.5" width="1175" height="155" fill="none" stroke="#dcdcdc" stroke-width="1"/>
<polyline points="8.5,801.3 20.5,824.2 31.5,839.9 43.5,842.4 55.5,837.7 67.5,824.8 78.5,816.5 90.5,804.9 102.5,794.2 114.5,781.7 125.5,769.5 137.5,761 149.5,758.4 161.5,761.8 172.5,768.5 184.5,771.1 196.5,769.1 208.5,763 219.5,763 231.5,767.2 243.5,773.5 255.5,779 266.5,779.6 278.5,778.1 290.5,772.5 302.5,772 313.5,775 325.5,784.6 337.5,793.9 349.5,797.3 360.5,796.1 372.5,789.3 384.5,784.6 396.5,783.7 407.5,789.8 419.5,802.3 431.5,814.4 443.5,831.6 454.5,850.6 466.5,874.2 478.5,886.3 490.5,886.5 501.5,879.4 513.5,877.6 525.5,883.1 537.5,889.3 548.5,892.1 560.5,884.1 572.5,875.7 584.5,864.6 595.5,860.5 607.5,853.4 619.5,846.5 631.5,837.2 642.5,831.5 654.5,826.8 666.5,818.1 678.5,799.1 689.5,782.8 701.5,768.8 713.5,762.7 725.5,762.3 736.5,767 748.5,775.3 760.5,791.1 772.5,804.7 783.5,814.9 795.5,807.9 807.5,794.8 819.5,776.3 830.5,767.3 842.5,766.4 854.5,769.7 866.5,772 877.5,772 889.5,773.8 901.5,780.5 913.5,790.2 924.5,795.4 936.5,792.4 948.5,786.5 960.5,782.4 971.5,777.2 983.5,769.4 995.5,761.4 1007.5,760.4 1018.5,762.7 1030.5,764.2 1042.5,761.4 1054.5,760.2 1065.5,760.4 1077.5,767 1089.5,774.5 1101.5,787.4 1112.5,795.6 1124.5,803.7 1136.5,806.9 1148.5,819.1 1159.5,835.8 1171.5,862.5" fill="none" stroke="#666600" stroke-width="1.1"/>
<polyline points="8.5,827.2 20.5,841.8 31.5,849.4 43.5,835.3 55.5,828.8 67.5,811.6 78.5,809 90.5,793.8 102.5,780.6 114.5,769.1 125.5,759.4 137.5,754.9 149.5,761.4 161.5,768.5 172.5,775.6 184.5,769.5 196.5,762.4 208.5,758.4 219.5,767.5 231.5,775 243.5,780 255.5,781.8 266.5,776.6 278.5,774.8 290.5,766 302.5,775 313.5,784.6 325.5,794.8 337.5,801.3 349.5,796.1 360.5,790.2 372.5,781.8 384.5,780.9 396.5,788.7 407.5,800.4 419.5,817.2 431.5,825 443.5,852.5 454.5,875.7 466.5,895.2 478.5,886.9 490.5,876.6 501.5,874.8 513.5,881.7 525.5,893.4 537.5,892.1 548.5,890.2 560.5,871.1 572.5,865.5 584.5,857.1 595.5,858 607.5,846 619.5,835.7 631.5,831.5 642.5,829.2 654.5,820.9 666.5,803.2 678.5,779.4 689.5,764.2 701.5,760.4 713.5,762.7 725.5,763.6 736.5,773.5 748.5,786.8 760.5,812.1 772.5,815.3 783.5,816.2 795.5,791.1 807.5,776.3 819.5,761.8 830.5,764.2 842.5,772.5 854.5,772.2 866.5,773.1 877.5,771.6 889.5,777.2 901.5,793.9 913.5,798.6 924.5,793.9 936.5,784.1 948.5,781.3 960.5,781.3 971.5,768.8 983.5,758.2 995.5,758.2 1007.5,766 1018.5,764.9 1030.5,761.8 1042.5,756.4 1054.5,762.2 1065.5,763.4 1077.5,775.9 1089.5,783.2 1101.5,800.3 1112.5,800.3 1124.5,809.9 1136.5,810.5 1148.5,835.1 1159.5,859.3 1171.5,888.6" fill="none" stroke="#006666" stroke-width="1.1"/>
<text x="1181" y="752.8" style="font-family:'Liberation Sans',Arial,sans-serif;font-size:12px" fill="#000">100</text>
<text x="1181" y="783.8" style="font-family:'Liberation Sans',Arial,sans-serif;font-size:12px" fill="#000">80</text>
<text x="1181" y="814.8" style="font-family:'Liberation Sans',Arial,sans-serif;font-size:12px" fill="#000">60</text>
<text x="1181" y="845.8" style="font-family:'Liberation Sans',Arial,sans-serif;font-size:12px" fill="#000">40</text>
<text x="1181" y="876.8" style="font-family:'Liberation Sans',Arial,sans-serif;font-size:12px" fill="#000">20</text>
<text x="1181" y="908.8" style="font-family:'Liberation Sans',Arial,sans-serif;font-size:12px" fill="#000">0</text>
<ellipse cx="1153" cy="819.7" rx="130.4" ry="90.2" fill="none" stroke="#c4bce6" stroke-width="3" shape-rendering="crispEdges"/>
<rect x="3.5" y="730.5" width="8" height="8" fill="#006666" stroke="#000"/>
<text x="15.8" y="738.5" style="font-family:'Liberation Sans',Arial,sans-serif;font-size:12px" textLength="177" fill="#000">Slow Stochastic %K (14): 9,8838</text>
<rect x="221.5" y="730.5" width="8" height="8" fill="#666600" stroke="#000"/>
<text x="234" y="738.5" style="font-family:'Liberation Sans',Arial,sans-serif;font-size:12px" textLength="82.2" fill="#000">%D (3): 26,749</text></svg>
</body></html>
